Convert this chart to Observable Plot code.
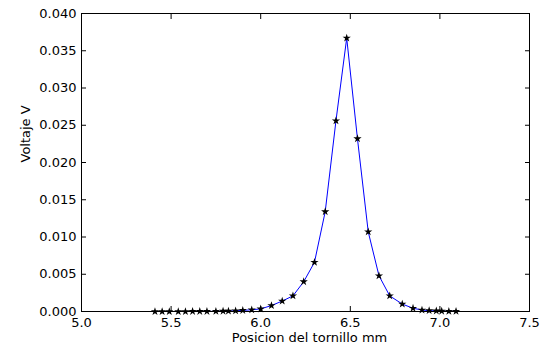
<!DOCTYPE html>
<html>
<head>
<meta charset="utf-8">
<script src="https://cdn.jsdelivr.net/npm/d3@7"></script>
<script src="https://cdn.jsdelivr.net/npm/@observablehq/plot@0.6"></script>
<style>
  html, body { margin: 0; padding: 0; background: #fff; }
</style>
</head>
<body>
<div id="chart"></div>
<script>
// Screw position (mm) and measured voltage (V)
const posicion = [
  5.41, 5.45, 5.49, 5.54, 5.58, 5.62, 5.66, 5.70, 5.75, 5.79,
  5.82, 5.86, 5.90, 5.95, 6.00, 6.06, 6.12, 6.18, 6.24, 6.30,
  6.36, 6.42, 6.48, 6.54, 6.60, 6.66, 6.72, 6.79, 6.85, 6.90,
  6.94, 6.98, 7.01, 7.05, 7.09
];
const voltaje = [
  0.00000, 0.00000, 0.00000, 0.00000, 0.00000, 0.00001, 0.00001, 0.00001, 0.00002, 0.00004,
  0.00006, 0.00010, 0.00015, 0.00023, 0.00035, 0.00080, 0.00140, 0.00210, 0.00400, 0.00660,
  0.01340, 0.02560, 0.03670, 0.02320, 0.01070, 0.00480, 0.00210, 0.00100, 0.00044, 0.00020,
  0.00012, 0.00008, 0.00005, 0.00003, 0.00002
];
const xTicks = [5.0, 5.5, 6.0, 6.5, 7.0, 7.5];
const yTicks = [0, 0.005, 0.010, 0.015, 0.020, 0.025, 0.030, 0.035, 0.040];
const xLabel = "Posicion del tornillo mm";
const yLabel = "Voltaje V";

const data = posicion.map((x, i) => ({x, y: voltaje[i]}));
const fontFamily = "'DejaVu Sans', sans-serif";

const chart = Plot.plot({
  width: 545,
  height: 351,
  marginLeft: 81,
  marginRight: 16,
  marginTop: 13,
  marginBottom: 40,
  style: {fontFamily, fontSize: "13px", background: "white", color: "black", overflow: "visible"},
  x: {domain: [5, 7.5]},
  y: {domain: [0, 0.04]},
  marks: [
    // inward ticks on all four sides
    Plot.axisX({anchor: "bottom", ticks: xTicks, tickFormat: ".1f", tickSize: -5, tickPadding: 11, label: null, fontSize: 13}),
    Plot.axisX({anchor: "top", ticks: xTicks, tickFormat: () => "", tickSize: -5, label: null}),
    Plot.axisY({anchor: "left", ticks: yTicks, tickFormat: ".3f", tickSize: -5, tickPadding: 10, label: null, fontSize: 13}),
    Plot.axisY({anchor: "right", ticks: yTicks, tickFormat: () => "", tickSize: -5, label: null}),
    Plot.line(data, {x: "x", y: "y", stroke: "#0000ff", strokeWidth: 1}),
    Plot.dot(data, {x: "x", y: "y", symbol: "star", fill: "black", r: 2.6}),
    Plot.frame({stroke: "black", strokeWidth: 1}),
    Plot.text([xLabel], {text: d => d, frameAnchor: "bottom", dy: 30, dx: 4, fontSize: 13}),
    Plot.text([yLabel], {text: d => d, frameAnchor: "left", dx: -56, rotate: -90, fontSize: 13})
  ]
});

document.getElementById("chart").appendChild(chart);
</script>
</body>
</html>
